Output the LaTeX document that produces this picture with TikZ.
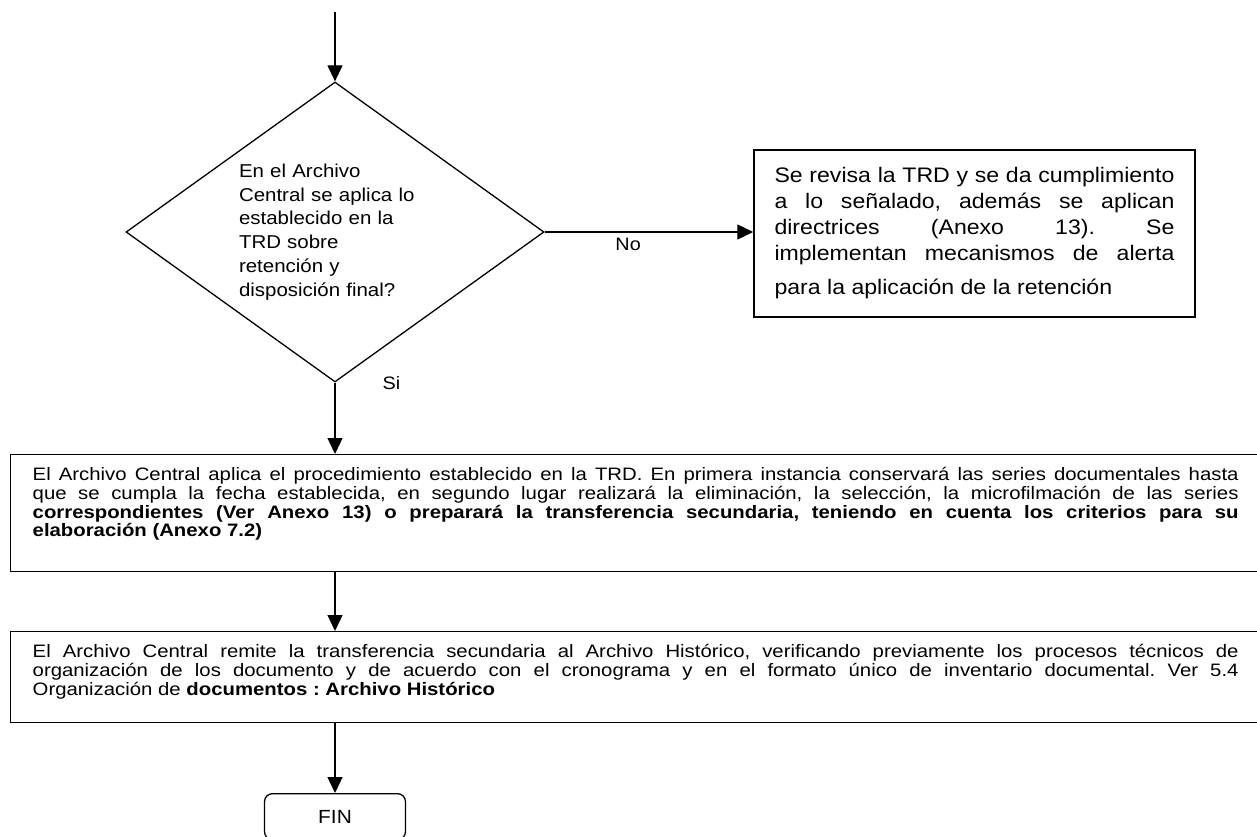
\documentclass[tikz,border=0pt]{standalone}
\usepackage{fontspec}
\setmainfont{Liberation Sans}
\newfontfamily\diafont[FakeStretch=1.1]{Liberation Sans}
\newfontfamily\boxfont[FakeStretch=1.13]{Liberation Sans}
\usetikzlibrary{arrows.meta,positioning,shapes.geometric}
\tikzset{%
  >={Triangle[length=16pt,width=15pt]},
  line/.style     = {draw, line width=1.3pt, ->},
  decision/.style = {diamond, draw, line width=1.3pt, aspect=1.4, inner sep=0pt,
    minimum width=418pt, minimum height=300pt, text width=192pt, align=left,
    font=\diafont\fontsize{18.6}{23.7}\selectfont},
  proc/.style     = {rectangle, draw, line width=1.4pt, inner xsep=20.5pt,
    text width=400pt, align=justify, minimum height=167pt,
    font=\diafont\fontsize{21}{26}\selectfont},
  wide/.style     = {rectangle, draw, line width=1.4pt, anchor=north west,
    inner xsep=22pt, inner ysep=12pt, text width=1206pt, align=justify,
    text height=14pt, font=\boxfont\fontsize{18}{18.7}\selectfont},
  finbox/.style   = {rectangle, draw, line width=1.3pt, rounded corners=8pt,
    anchor=north, minimum width=141pt, minimum height=46pt,
    font=\diafont\fontsize{19}{23}\selectfont},
  lbl/.style      = {inner sep=0pt, font=\diafont\fontsize{18}{22}\selectfont}
}
\begin{document}
\frenchspacing
\begin{tikzpicture}[x=1pt,y=-1pt]
  \useasboundingbox (0,0) rectangle (1257,837);
  % decision
  \coordinate (start) at (335,12);
  \node[decision] (dia) at (335,232) {En el Archivo\\ Central se aplica lo\\
    establecido en la\\ TRD sobre\\ retenci\'on y\\ disposici\'on final?};
  \node[proc] (revisa) at (974.5,233.5) {{\parfillskip=0pt
    Se revisa la TRD y se da cumplimiento\linebreak
    a lo se\~nalado, adem\'as se aplican\linebreak
    directrices (Anexo 13). Se\linebreak
    implementan mecanismos de alerta\par}\vspace{8pt}
    para la aplicaci\'on de la retenci\'on};
  % procesos
  \node[wide, text depth=79pt] (box1) at (10,454) {El Archivo Central aplica el
    procedimiento establecido en la TRD. En primera instancia conservar\'a las
    series documentales hasta\linebreak
    que se cumpla la fecha establecida, en segundo lugar realizar\'a la
    eliminaci\'on, la selecci\'on, la microfilmaci\'on de las series\linebreak
    \textbf{correspondientes (Ver Anexo 13) o preparar\'a la transferencia
    secundaria, teniendo en cuenta los criterios para su\linebreak
    elaboraci\'on (Anexo 7.2)}};
  \node[wide, text depth=53pt] (box2) at (10,631) {El Archivo Central remite la
    transferencia secundaria al Archivo Hist\'orico, verificando previamente los
    procesos t\'ecnicos de\linebreak
    organizaci\'on de los documento y de acuerdo con el cronograma y en el
    formato \'unico de inventario documental. Ver 5.4\linebreak
    Organizaci\'on de \textbf{documentos : Archivo Hist\'orico}};
  \node[finbox] (fin) at (335,793) {FIN};
  % flechas
  \draw[line] (start) -- (dia.north);
  \draw[line] (dia.east) -- node[lbl, below=5pt, pos=0.4] {No} (dia.east -| revisa.west);
  \draw[line] (dia.south) -- node[lbl, pos=0, anchor=west, xshift=47pt] {Si}
    (dia.south |- box1.north);
  \draw[line] (dia.south |- box1.south) -- (dia.south |- box2.north);
  \draw[line] (dia.south |- box2.south) -- (fin.north);
\end{tikzpicture}
\end{document}
